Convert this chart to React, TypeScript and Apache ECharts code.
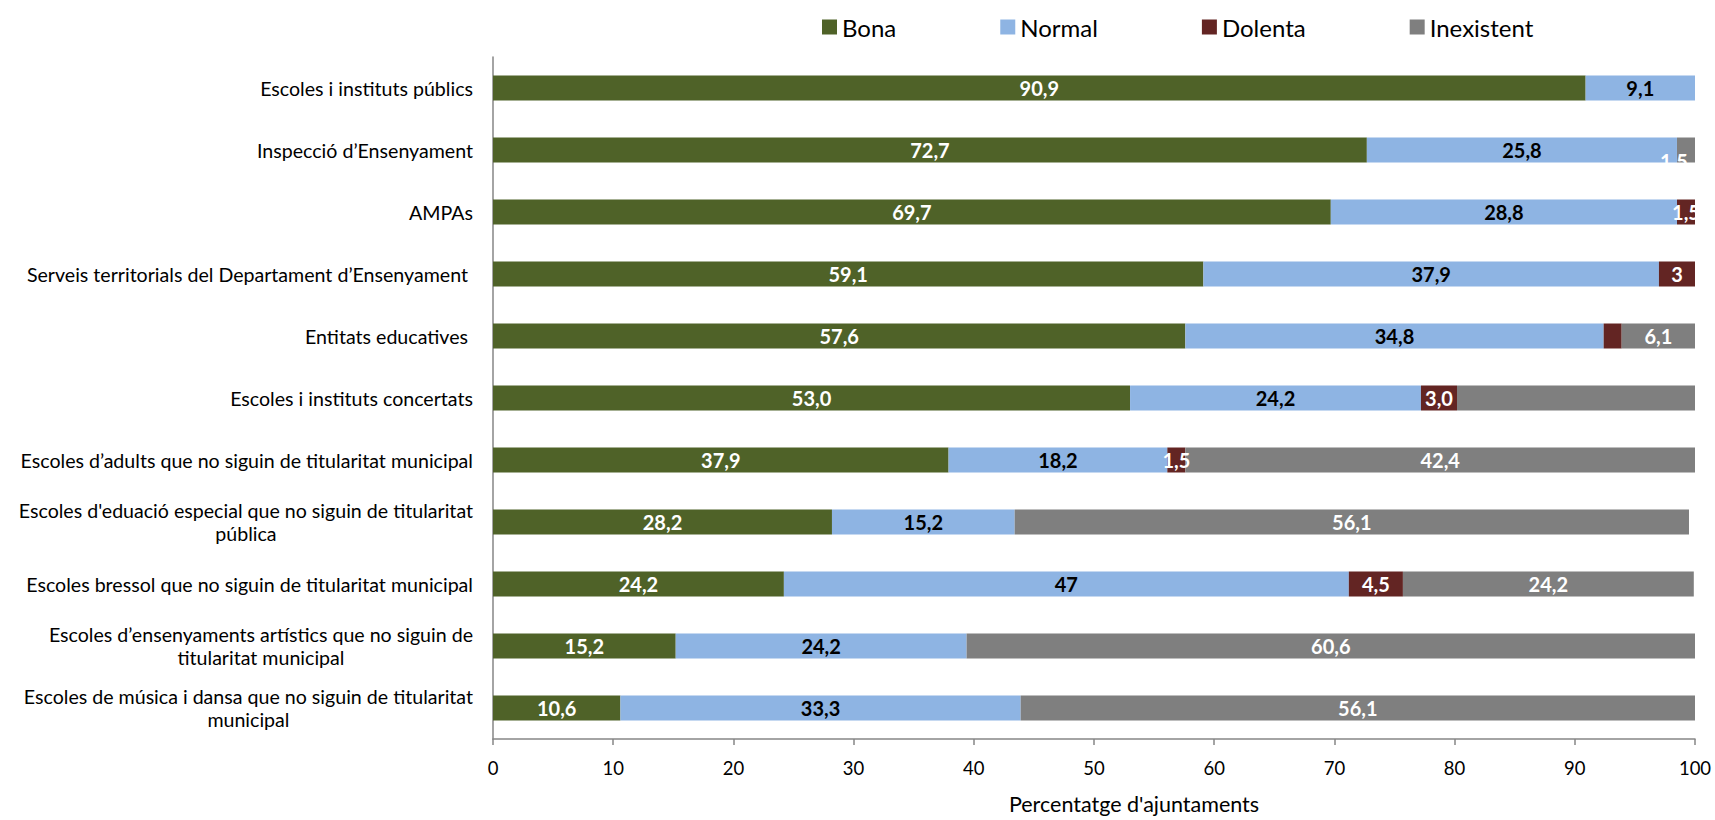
import React, { useEffect, useRef } from "react";
import * as echarts from "echarts";

const categories = [
  "Escoles i instituts públics",
  "Inspecció d’Ensenyament",
  "AMPAs",
  "Serveis territorials del Departament d’Ensenyament ",
  "Entitats educatives ",
  "Escoles i instituts concertats",
  "Escoles d’adults que no siguin de titularitat municipal",
  "Escoles d'eduació especial que no siguin de titularitat\npública",
  "Escoles bressol que no siguin de titularitat municipal",
  "Escoles d’ensenyaments artístics que no siguin de\ntitularitat municipal",
  "Escoles de música i dansa que no siguin de titularitat\nmunicipal",
];

const seriesNames = ["Bona", "Normal", "Dolenta", "Inexistent"];

const bona = [90.9, 72.7, 69.7, 59.1, 57.6, 53.0, 37.9, 28.2, 24.2, 15.2, 10.6];
const normal = [9.1, 25.8, 28.8, 37.9, 34.8, 24.2, 18.2, 15.2, 47, 24.2, 33.3];
const dolenta = [0, 0, 1.5, 3, 1.5, 3.0, 1.5, 0, 4.5, 0, 0];
const inexistent = [0, 1.5, 0, 0, 6.1, 19.8, 42.4, 56.1, 24.2, 60.6, 56.1];

const bonaLabels = ["90,9", "72,7", "69,7", "59,1", "57,6", "53,0", "37,9", "28,2", "24,2", "15,2", "10,6"];
const normalLabels = ["9,1", "25,8", "28,8", "37,9", "34,8", "24,2", "18,2", "15,2", "47", "24,2", "33,3"];
const dolentaLabels = ["", "", "1,5", "3", "", "3,0", "1,5", "", "4,5", "", ""];
const inexistentLabels = ["", "1,5", "", "", "6,1", "", "42,4", "56,1", "24,2", "60,6", "56,1"];

const xTicks = { min: 0, max: 100, interval: 10 };

const colors = ["#4F6228", "#8EB4E3", "#632523", "#7F7F7F"];
const labelColors = ["#FFFFFF", "#000000", "#FFFFFF", "#FFFFFF"];

const FONT = "Lato, 'Open Sans', sans-serif";

export default function App() {
  const ref = useRef<HTMLDivElement>(null);

  useEffect(() => {
    if (!ref.current) return;
    const chart = echarts.init(ref.current, undefined, { renderer: "svg" });

    const values = [bona, normal, dolenta, inexistent];
    const labels = [bonaLabels, normalLabels, dolentaLabels, inexistentLabels];

    const series = seriesNames.map((name, si) => ({
      name,
      type: "bar",
      stack: "total",
      barWidth: 25,
      itemStyle: { color: colors[si] },
      data: values[si].map((v, i) => {
        const item: any = { value: v };
        if (si === 3 && i === 1) {
          item.label = { offset: [-12, 11] };
        }
        return item;
      }),
      label: {
        show: true,
        position: "inside",
        color: labelColors[si],
        fontFamily: FONT,
        fontWeight: "bold",
        fontSize: 20,
        formatter: (p: any) => labels[si][p.dataIndex] || "",
      },
    }));

    chart.setOption({
      animation: false,
      textStyle: { fontFamily: FONT },
      legend: {
        data: seriesNames,
        left: 817,
        top: 10,
        itemGap: 104,
        itemWidth: 15,
        itemHeight: 15,
        icon: "rect",
        textStyle: { fontSize: 24, color: "#000", fontFamily: FONT },
      },
      grid: { left: 493, right: 20, top: 57, bottom: 78, containLabel: false },
      xAxis: {
        type: "value",
        min: xTicks.min,
        max: xTicks.max,
        interval: xTicks.interval,
        name: "Percentatge d'ajuntaments",
        nameLocation: "middle",
        nameGap: 54,
        nameTextStyle: {
          fontSize: 21.5,
          color: "#000",
          fontFamily: FONT,
          padding: [0, 0, 0, 80],
        },
        axisLine: { show: true, lineStyle: { color: "#868686", width: 1.5 } },
        axisTick: { show: true, length: 6, lineStyle: { color: "#868686", width: 1.5 } },
        axisLabel: { fontSize: 18.5, color: "#000", margin: 19, fontFamily: FONT },
        splitLine: { show: false },
      },
      yAxis: {
        type: "category",
        data: categories,
        inverse: true,
        axisLine: { show: true, lineStyle: { color: "#868686", width: 1.5 } },
        axisTick: { show: false },
        axisLabel: {
          fontSize: 19.6,
          color: "#000",
          margin: 20,
          fontFamily: FONT,
          lineHeight: 23,
          formatter: (v: string) =>
            v.includes("\n")
              ? v
                  .split("\n")
                  .map((l) => `{c|${l}}`)
                  .join("\n")
              : v,
          rich: {
            c: { align: "center", fontSize: 19.6, fontFamily: FONT, color: "#000", lineHeight: 23 },
          },
        },
      },
      series,
    });

    return () => chart.dispose();
  }, []);

  return (
    <div
      ref={ref}
      style={{ position: "fixed", left: 0, top: 0, width: 1715, height: 820, background: "#fff" }}
    />
  );
}
